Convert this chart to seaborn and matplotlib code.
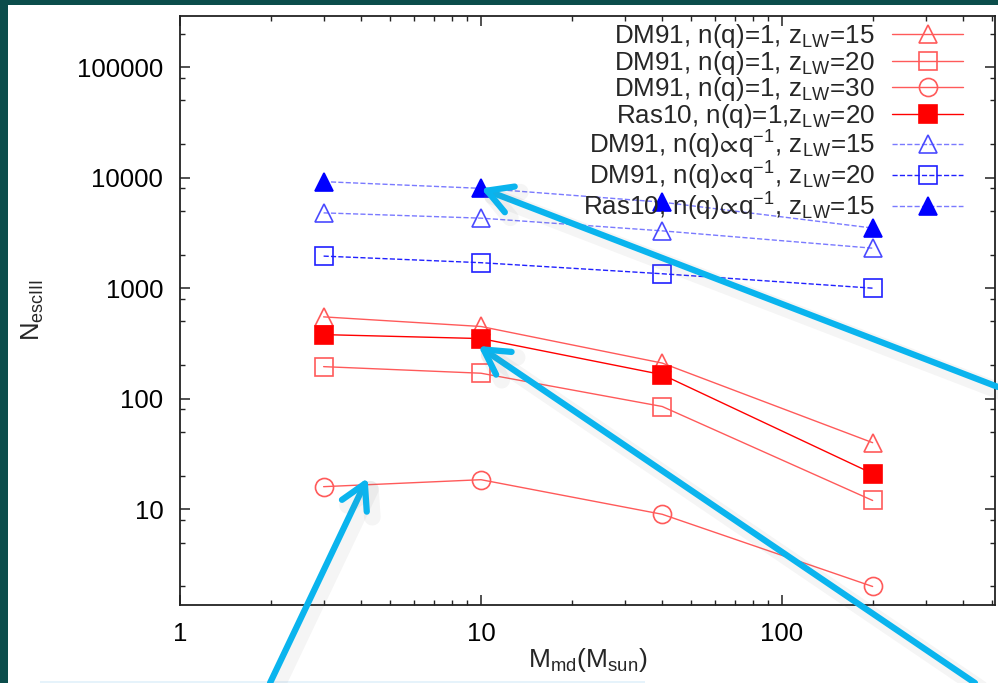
import numpy as np
import pandas as pd
import seaborn as sns
import matplotlib
matplotlib.use('Agg')
import matplotlib.pyplot as plt
from matplotlib.ticker import LogLocator, FuncFormatter, NullFormatter
from matplotlib.patches import Rectangle
import matplotlib.patheffects as pe

sns.set_style('ticks')
plt.rcParams['font.family'] = ['Liberation Sans', 'DejaVu Sans']
plt.rcParams['mathtext.fontset'] = 'custom'
plt.rcParams['mathtext.rm'] = 'Liberation Sans'
plt.rcParams['mathtext.it'] = 'Liberation Sans:italic'
plt.rcParams['mathtext.fallback'] = 'stixsans'

# data
m_md = [3, 10, 40, 200]
dm91_z15 = [550, 450, 210, 40]
dm91_z20 = [195, 170, 85, 12]
dm91_z30 = [16, 18.5, 9, 2]
ras10_z20 = [380, 350, 165, 21]
dm91_inv_z15 = [4800, 4300, 3300, 2300]
dm91_inv_z20 = [1950, 1700, 1350, 1000]
ras10_inv_z15 = [9200, 8000, 6000, 3500]

lw_lab = r'z$_{\mathrm{LW}}$'
prop = r'n(q)$\!\propto\!$q$^{-1}$'
labels = [
    'DM91, n(q)=1, ' + lw_lab + '=15',
    'DM91, n(q)=1, ' + lw_lab + '=20',
    'DM91, n(q)=1, ' + lw_lab + '=30',
    'Ras10, n(q)=1,' + lw_lab + '=20',
    'DM91, ' + prop + ', ' + lw_lab + '=15',
    'DM91, ' + prop + ', ' + lw_lab + '=20',
    'Ras10, ' + prop + ', ' + lw_lab + '=15',
]

red_lt = '#ff5a5a'
red = '#ff0000'
blue_lt = '#7a7aff'
blue = '#2020ff'

styles = [
    dict(color=red_lt, marker='^', markerfacecolor='none', markeredgecolor=red_lt, markersize=13, linestyle='-'),
    dict(color=red_lt, marker='s', markerfacecolor='none', markeredgecolor=red_lt, markersize=12.5, linestyle='-'),
    dict(color=red_lt, marker='o', markerfacecolor='none', markeredgecolor=red_lt, markersize=13, linestyle='-'),
    dict(color=red, marker='s', markerfacecolor=red, markeredgecolor=red, markersize=12.5, linestyle='-'),
    dict(color=blue_lt, marker='^', markerfacecolor='none', markeredgecolor='#4a4aff', markersize=13, linestyle='--'),
    dict(color=blue, marker='s', markerfacecolor='none', markeredgecolor=blue, markersize=12.5, linestyle='--'),
    dict(color=blue_lt, marker='^', markerfacecolor='#0000ff', markeredgecolor='#0000ff', markersize=12.5, linestyle='--'),
]
series = [dm91_z15, dm91_z20, dm91_z30, ras10_z20, dm91_inv_z15, dm91_inv_z20, ras10_inv_z15]

W, H = 998, 683
fig = plt.figure(figsize=(W / 100, H / 100), dpi=100, facecolor='#0b4d4b')
fig.patches.append(Rectangle((8 / W, 0), 1, 1 - 5 / H, transform=fig.transFigure,
                             facecolor='white', edgecolor='none', zorder=-5))
# faint edge of the slide's text box at the bottom
fig.patches.append(Rectangle((40 / W, 0), 605 / W, 2.5 / H, transform=fig.transFigure,
                             facecolor='#e6f3fb', edgecolor='none', zorder=-4))
ax = fig.add_axes([180 / W, 1 - 605 / H, 815 / W, 589 / H])
ax.set_facecolor('white')

for vals, lab, st in zip(series, labels, styles):
    sns.lineplot(x=m_md, y=vals, ax=ax, label=lab, linewidth=1.0,
                 markeredgewidth=1.2, **st)

ax.set_xscale('log')
ax.set_yscale('log')
ax.set_xlim(1, 510)
ax.set_ylim(1.36, 2.9e5)

fmt = FuncFormatter(lambda v, p: f'{v:g}')
ax.xaxis.set_major_formatter(fmt)
ax.yaxis.set_major_formatter(fmt)
ax.yaxis.set_minor_locator(LogLocator(base=10, subs=(2, 5, 8)))
ax.xaxis.set_minor_locator(LogLocator(base=10, subs=np.arange(2, 10)))
ax.xaxis.set_minor_formatter(NullFormatter())
ax.yaxis.set_minor_formatter(NullFormatter())
ax.tick_params(which='both', direction='in', top=True, right=True, colors='#222222',
               labelcolor='black', labelsize=18.5)
ax.tick_params(which='major', length=7, width=1.1, pad=12)
ax.tick_params(which='minor', length=3.5, width=1.0)
for s in ax.spines.values():
    s.set_linewidth(1.3)
    s.set_color('#222222')

ax.set_xlabel(r'M$_{\mathrm{md}}$(M$_{\mathrm{sun}}$)', fontsize=19)
ax.set_ylabel(r'N$_{\mathrm{escIII}}$', fontsize=18.5)
ax.xaxis.set_label_coords(0.5, -0.07)
ax.yaxis.set_label_coords(-0.165, 0.5)

# markerfirst=False right-aligns the rows against the handles
leg = ax.legend(loc='upper right', bbox_to_anchor=(0.961, 0.99), frameon=False,
                fontsize=18.7, markerfirst=False, numpoints=1, handlelength=2.75,
                handletextpad=0.65, labelspacing=-0.05, borderpad=0, borderaxespad=0)

# cyan call-out arrows
acol = '#0ab4ee'
shadow = [pe.SimpleLineShadow(offset=(4, -4), shadow_color='#808080', alpha=0.08, linewidth=12),
          pe.Normal()]
arrows = [((10, 8000), (1.0, 1 - 387 / H)),
          ((9.8, 300), (975 / W, 0.0)),
          ((4.2, 19.2), (270 / W, 0.0))]
for tip, tail in arrows:
    ax.annotate('', xy=tip, xycoords='data', xytext=tail, textcoords='figure fraction',
                annotation_clip=False,
                arrowprops=dict(arrowstyle='->,head_length=0.8,head_width=0.45', color=acol,
                                lw=4.5, shrinkA=0, shrinkB=0, mutation_scale=22,
                                path_effects=shadow))

fig.savefig('out.png', dpi=100)
